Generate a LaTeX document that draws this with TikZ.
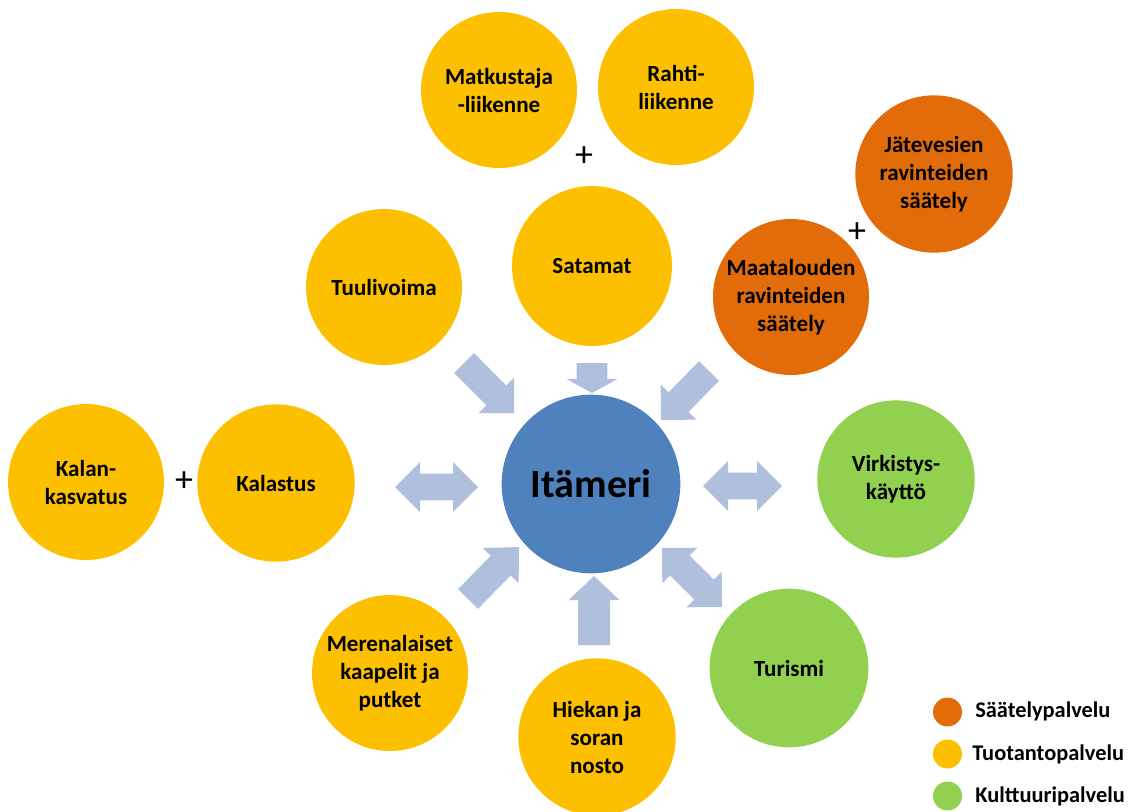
\documentclass[tikz,border=0pt]{standalone}
\usepackage{fontspec}
\setmainfont{Carlito}
\usetikzlibrary{calc}
\definecolor{cyellow}{RGB}{253,192,0}
\definecolor{corange}{RGB}{227,108,10}
\definecolor{cgreen}{RGB}{146,208,80}
\definecolor{cblue}{RGB}{79,129,189}
\definecolor{carrow}{RGB}{176,192,220}
\newcommand\blkarrow[5]{%
  \coordinate (HH) at ($(#2)!#5!(#1)$);
  \fill[arrowfill] ($(#1)!#3!90:(#2)$) -- ($(HH)!#3!-90:(#1)$) -- ($(HH)!#4!-90:(#1)$) -- (#2)
     -- ($(HH)!#4!90:(#1)$) -- ($(HH)!#3!90:(#1)$) -- ($(#1)!#3!-90:(#2)$) -- cycle;}
\newcommand\dblarrow[5]{%
  \coordinate (HA) at ($(#1)!#5!(#2)$);
  \coordinate (HB) at ($(#2)!#5!(#1)$);
  \fill[arrowfill] (#1) -- ($(HA)!#4!90:(#2)$) -- ($(HA)!#3!90:(#2)$) -- ($(HB)!#3!-90:(#1)$)
     -- ($(HB)!#4!-90:(#1)$) -- (#2) -- ($(HB)!#4!90:(#1)$) -- ($(HB)!#3!90:(#1)$)
     -- ($(HA)!#3!-90:(#2)$) -- ($(HA)!#4!-90:(#2)$) -- cycle;}
\begin{document}
\begin{tikzpicture}[x=0.75pt,y=-0.75pt,
  arrowfill/.style={fill=carrow},
  svc/.style={circle, inner sep=0pt, minimum size=117pt, align=center,
     font=\fontsize{17.3}{21}\selectfont\bfseries},
  yel/.style={svc, fill=cyellow},
  ora/.style={svc, fill=corange},
  gre/.style={svc, fill=cgreen},
  plusmark/.style={inner sep=0pt, font=\fontsize{27}{27}\selectfont},
  legdot/.style={circle, inner sep=0pt, minimum size=21.75pt},
  legtext/.style={anchor=base west, inner sep=0pt, font=\fontsize{16.8}{20}\selectfont\bfseries}]
\useasboundingbox (0,0) rectangle (1131,811);
% arrow end points
\coordinate (a1t) at (464,363); \coordinate (a1p) at (514,413);
\coordinate (a2t) at (592,363); \coordinate (a2p) at (592,393);
\coordinate (a3t) at (709,371); \coordinate (a3p) at (661,420);
\coordinate (a4a) at (395,487); \coordinate (a4b) at (478,487);
\coordinate (a5a) at (703,486); \coordinate (a5b) at (782,486);
\coordinate (a6t) at (468,599); \coordinate (a6p) at (519,547);
\coordinate (a7t) at (594,645); \coordinate (a7p) at (594,576);
\coordinate (a8a) at (662,548); \coordinate (a8b) at (722,607);
\blkarrow{a1t}{a1p}{10.5pt}{18.75pt}{18.75pt}
\blkarrow{a2t}{a2p}{11.6pt}{19.1pt}{10.5pt}
\blkarrow{a3t}{a3p}{10.5pt}{18.75pt}{18.75pt}
\dblarrow{a4a}{a4b}{10.1pt}{18.75pt}{18.75pt}
\dblarrow{a5a}{a5b}{10.1pt}{18.75pt}{18.75pt}
\blkarrow{a6t}{a6p}{10.5pt}{18.75pt}{19.5pt}
\blkarrow{a7t}{a7p}{12pt}{19.1pt}{18pt}
\dblarrow{a8a}{a8b}{10.5pt}{18.75pt}{18.75pt}
% circles
\node[yel] (matk) at (499,90) {Matkustaja\\-liikenne};
\node[yel] (rahti) at (676,87) {Rahti-\\liikenne};
\node[ora, minimum size=118pt] (jate) at (934,174) {Jätevesien\\ravinteiden\\säätely};
\node[yel, minimum size=120pt] (sata) at (592,266) {Satamat};
\node[yel] (tuuli) at (384,287) {Tuulivoima};
\node[ora] (maat) at (791,297) {Maatalouden\\ravinteiden\\säätely};
\node[circle, fill=cblue, inner sep=0pt, minimum size=134pt,
      font=\fontsize{30}{32}\selectfont\bfseries] (ita) at (591,484) {Itämeri};
\node[yel] (kalank) at (86,482) {Kalan-\\kasvatus};
\node[yel, minimum size=118pt] (kalast) at (276,483) {Kalastus};
\node[gre, minimum size=118pt] (virk) at (896,479) {Virkistys-\\käyttö};
\node[yel] (meren) at (390,673) {Merenalaiset\\kaapelit ja\\putket};
\node[yel, minimum size=118pt] (hiekan) at (597,737) {Hiekan ja\\soran\\nosto};
\node[gre, minimum size=119pt] (turismi) at (789,668) {Turismi};
% plus signs
\node[plusmark] (p1) at (584,157) {+};
\node[plusmark] (p2) at (184,482) {+};
\node[plusmark] (p3) at (857,233) {+};
% legend
\node[legdot, fill=corange] (l1) at (947.5,712) {};
\node[legdot, fill=cyellow] (l2) at (947.5,754) {};
\node[legdot, fill=cgreen] (l3) at (947.5,796) {};
\node[legtext] (t1) at (975,717) {Säätelypalvelu};
\node[legtext] (t2) at (972,760) {Tuotantopalvelu};
\node[legtext] (t3) at (975,802) {Kulttuuripalvelu};
\end{tikzpicture}
\end{document}
